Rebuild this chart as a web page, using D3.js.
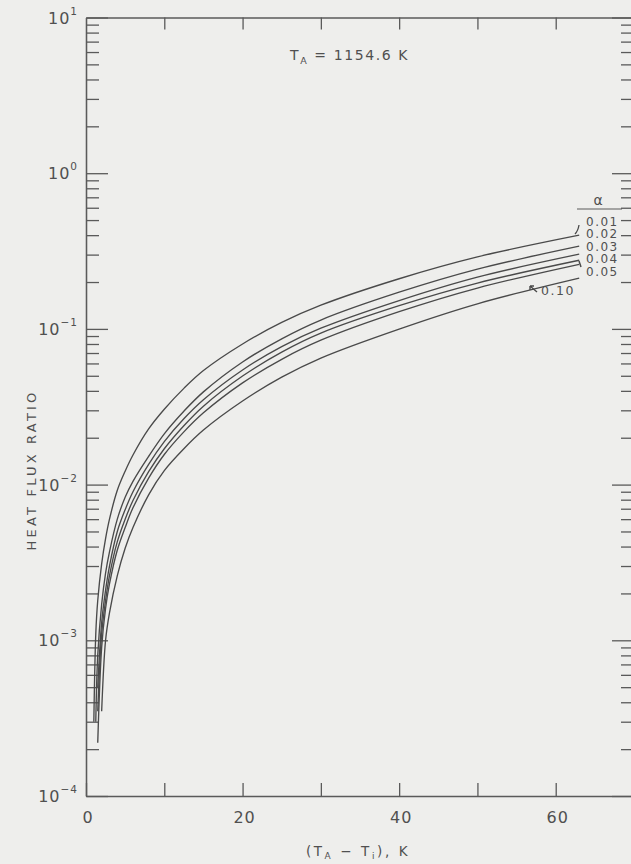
<!DOCTYPE html>
<html>
<head>
<meta charset="utf-8">
<script src="https://cdn.jsdelivr.net/npm/d3@7"></script>
<style>
  html, body { margin: 0; padding: 0; background: #eeeeec; }
  svg { display: block; }
  text { font-family: "DejaVu Sans", sans-serif; fill: #505050; }
</style>
</head>
<body>
<svg id="chart" width="631" height="864"></svg>
<script>
// Temperature difference (T_A - T_i), K, shared by all curves
const dT = [1.0, 1.25, 1.5, 2, 2.5, 3, 4, 5, 6, 8, 10, 12.5, 15, 20, 25, 30, 40, 50, 63];

// Heat flux ratio for each wall parameter alpha (null = curve not drawn there)
const alpha001 = [0.0003, 0.0011, 0.0018, 0.0031, 0.0045, 0.0060, 0.0092, 0.0122, 0.0155, 0.0228, 0.0305, 0.0415, 0.054, 0.080, 0.110, 0.142, 0.210, 0.290, 0.400];
const alpha002 = [null, 0.0003, 0.0008, 0.0017, 0.0027, 0.0037, 0.0060, 0.0083, 0.0105, 0.0152, 0.0212, 0.0296, 0.0394, 0.0613, 0.0864, 0.114, 0.172, 0.242, 0.340];
const alpha003 = [null, null, 0.0005, 0.0013, 0.0021, 0.0030, 0.0050, 0.0069, 0.0090, 0.0135, 0.0189, 0.0265, 0.0351, 0.0545, 0.077, 0.101, 0.152, 0.215, 0.302];
const alpha004 = [null, null, 0.00035, 0.0011, 0.0018, 0.0026, 0.0043, 0.0060, 0.0079, 0.0121, 0.0170, 0.0239, 0.0319, 0.0498, 0.071, 0.094, 0.141, 0.197, 0.276];
const alpha005 = [null, null, 0.00022, 0.0009, 0.0016, 0.0023, 0.0038, 0.0053, 0.0071, 0.0110, 0.0156, 0.0218, 0.0289, 0.0450, 0.0638, 0.0846, 0.129, 0.183, 0.260];
const alpha010 = [null, null, null, 0.00035, 0.0010, 0.0015, 0.0026, 0.0039, 0.0053, 0.0086, 0.0123, 0.0170, 0.0224, 0.0344, 0.049, 0.065, 0.0998, 0.145, 0.212];

const alphaLabels = ["0.01", "0.02", "0.03", "0.04", "0.05"];
const extraLabel = "0.10";

// Axis ticks
const xTicks = [0, 10, 20, 30, 40, 50, 60, 70];
const xTickLabels = [0, 20, 40, 60];
const yDecades = [-4, -3, -2, -1, 0, 1];

const series = [alpha001, alpha002, alpha003, alpha004, alpha005, alpha010];

const svg = d3.select("#chart");
const plotLeft = 86, plotRight = 634, plotTop = 17.5, plotBottom = 796;

const x = d3.scaleLinear().domain([0, 70]).range([plotLeft, plotRight]);
const y = d3.scaleLog().domain([1e-4, 10]).range([plotBottom, plotTop]);

const majors = yDecades.map(e => Math.pow(10, e));
const minors = [];
yDecades.slice(0, -1).forEach(e => {
  for (let m = 2; m <= 9; m++) minors.push(m * Math.pow(10, e));
});

const axisColor = "#5a5a5a";
function styleAxis(g) {
  g.select(".domain").attr("stroke", axisColor).attr("stroke-width", 1.3);
  g.selectAll(".tick line").attr("stroke", axisColor).attr("stroke-width", 1.3);
  g.selectAll(".tick text").remove();
}

// frame lines with inward ticks
svg.append("g").attr("transform", `translate(0,${plotBottom})`)
  .call(d3.axisTop(x).tickValues(xTicks).tickSize(13).tickSizeOuter(0).tickFormat(""))
  .call(styleAxis);
svg.append("g").attr("transform", `translate(0,${plotTop})`)
  .call(d3.axisBottom(x).tickValues(xTicks.slice(1)).tickSize(12).tickSizeOuter(0).tickFormat(""))
  .call(styleAxis);
svg.append("g").attr("transform", `translate(${plotLeft},0)`)
  .call(d3.axisRight(y).tickValues(majors).tickSize(22).tickSizeOuter(0).tickFormat(""))
  .call(styleAxis);
svg.append("g").attr("transform", `translate(${plotLeft},0)`)
  .call(d3.axisRight(y).tickValues(minors).tickSize(13).tickSizeOuter(0).tickFormat(""))
  .call(styleAxis);
svg.append("g").attr("transform", `translate(${plotRight},0)`)
  .call(d3.axisLeft(y).tickValues(majors).tickSize(22).tickSizeOuter(0).tickFormat(""))
  .call(styleAxis);
svg.append("g").attr("transform", `translate(${plotRight},0)`)
  .call(d3.axisLeft(y).tickValues(minors).tickSize(13).tickSizeOuter(0).tickFormat(""))
  .call(styleAxis);

// y tick labels: 10 with superscript exponent
yDecades.forEach(e => {
  const t = svg.append("text")
    .attr("x", 78).attr("y", y(Math.pow(10, e)) + 6)
    .attr("text-anchor", "end")
    .style("font-size", "16px").style("letter-spacing", "1px");
  t.append("tspan").text("10");
  t.append("tspan").attr("dy", -9).style("font-size", "10.5px").text(e < 0 ? "\u2212" + (-e) : String(e));
});

// x tick labels
svg.selectAll(".xlab").data(xTickLabels).enter().append("text")
  .attr("class", "xlab")
  .attr("x", d => x(d) + 2).attr("y", 823)
  .attr("text-anchor", "middle")
  .style("font-size", "16px").style("letter-spacing", "1px")
  .text(d => d);

// x axis title
const xt = svg.append("text").attr("x", 358).attr("y", 856).attr("text-anchor", "middle").style("font-size", "13.5px").style("letter-spacing", "2.6px");
xt.append("tspan").text("(T");
xt.append("tspan").attr("dy", 3).style("font-size", "9px").text("A");
xt.append("tspan").attr("dy", -3).text("  \u2212 T");
xt.append("tspan").attr("dy", 3).style("font-size", "9px").text("i");
xt.append("tspan").attr("dy", -3).text("), K");

// y axis title
svg.append("text")
  .attr("transform", "translate(36,470) rotate(-90)")
  .attr("text-anchor", "middle")
  .style("font-size", "13px").style("letter-spacing", "3.2px")
  .text("HEAT FLUX RATIO");

// header annotation
const ta = svg.append("text").attr("x", 290).attr("y", 60).style("font-size", "14px").style("letter-spacing", "1.6px");
ta.append("tspan").text("T");
ta.append("tspan").attr("dy", 4).style("font-size", "9.5px").text("A");
ta.append("tspan").attr("dy", -4).text(" = 1154.6 K");

// curves
const line = d3.line()
  .defined(d => d[1] != null)
  .x(d => x(d[0]))
  .y(d => y(d[1]))
  .curve(d3.curveCatmullRom.alpha(0.5));

svg.append("g").selectAll("path").data(series).enter().append("path")
  .attr("d", s => line(dT.map((t, i) => [t, s[i]])))
  .attr("fill", "none")
  .attr("stroke", "#4a4a4a")
  .attr("stroke-width", 1.35);

// legend for alpha
svg.append("text").attr("x", 598).attr("y", 205).attr("text-anchor", "middle").style("font-size", "14px").text("\u03b1");
svg.append("line").attr("x1", 577).attr("x2", 622).attr("y1", 209).attr("y2", 209).attr("stroke", axisColor).attr("stroke-width", 1.2);
const legY = [221, 233.5, 246, 258.5, 271];
svg.selectAll(".leg").data(alphaLabels).enter().append("text")
  .attr("class", "leg")
  .attr("x", 586).attr("y", (d, i) => legY[i] + 4.5)
  .style("font-size", "12px").style("letter-spacing", "1.5px")
  .text(d => d);
svg.append("text").attr("x", 541).attr("y", 295).style("font-size", "12.5px").style("letter-spacing", "1.5px").text(extraLabel);

// leader marks
svg.append("path").attr("d", "M575,234 Q578,231 579,225").attr("fill", "none").attr("stroke", "#4a4a4a").attr("stroke-width", 1.3);
svg.append("path").attr("d", "M579,261 L581,267").attr("fill", "none").attr("stroke", "#4a4a4a").attr("stroke-width", 1.5);
svg.append("path").attr("d", "M537,292 L530,286 M530,286 L530,290 M530,286 L534,286").attr("fill", "none").attr("stroke", "#4a4a4a").attr("stroke-width", 1.4);
</script>
</body>
</html>
